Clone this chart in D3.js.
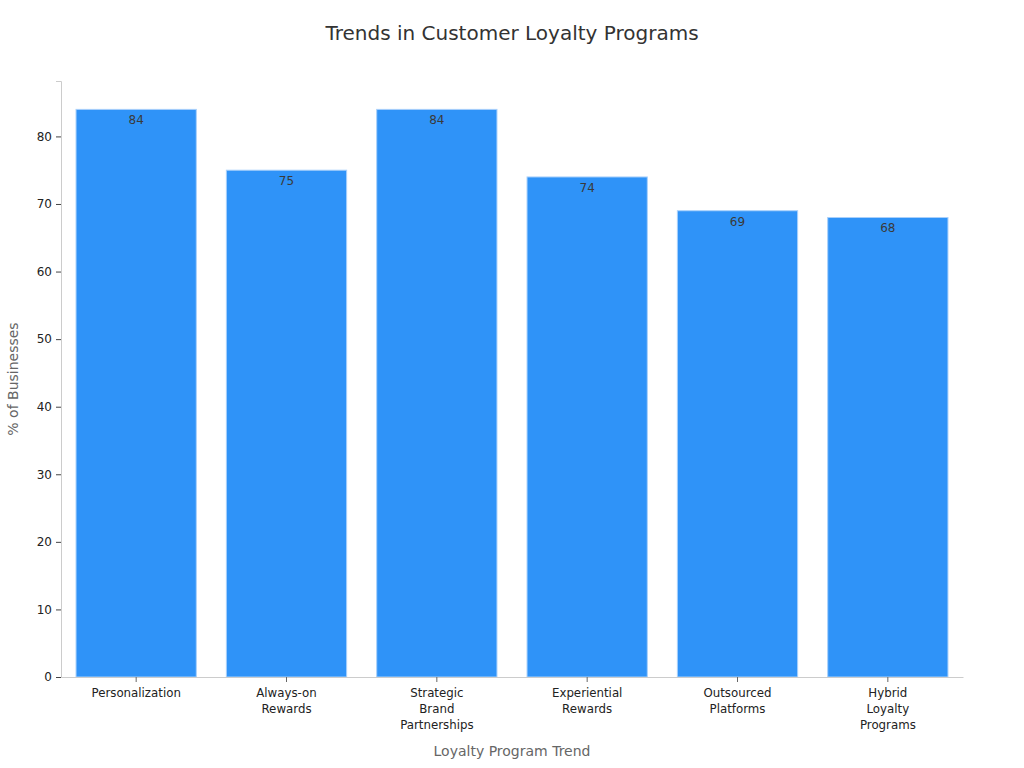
<!DOCTYPE html>
<html>
<head>
<meta charset="utf-8">
<title>Trends in Customer Loyalty Programs</title>
<script src="https://d3js.org/d3.v7.min.js"></script>
<style>
  body { margin: 0; background: #fff; }
  svg { font-family: "DejaVu Sans", sans-serif; }
</style>
</head>
<body>
<div id="chart"></div>
<script>
// chart data
const trends = ["Personalization", "Always-on Rewards", "Strategic Brand Partnerships",
                "Experiential Rewards", "Outsourced Platforms", "Hybrid Loyalty Programs"];
const tickLines = [["Personalization"], ["Always-on", "Rewards"], ["Strategic", "Brand", "Partnerships"],
                   ["Experiential", "Rewards"], ["Outsourced", "Platforms"], ["Hybrid", "Loyalty", "Programs"]];
const percents = [84, 75, 84, 74, 69, 68];
const yTicks = [0, 10, 20, 30, 40, 50, 60, 70, 80];

const width = 1024, height = 768;
const margin = { left: 61, right: 963, top: 81, bottom: 677 };

const svg = d3.select("#chart").append("svg")
    .attr("width", width)
    .attr("height", height);

const x = d3.scaleBand()
    .domain(trends)
    .range([margin.left, margin.right])
    .paddingInner(0.2)
    .paddingOuter(0.1);

const y = d3.scaleLinear()
    .domain([0, d3.max(percents) * 1.05])
    .range([margin.bottom, margin.top]);

// title
svg.append("text")
    .attr("x", 512).attr("y", 40)
    .attr("text-anchor", "middle")
    .attr("font-size", 20)
    .attr("fill", "#333")
    .text("Trends in Customer Loyalty Programs");

// bars
svg.selectAll("rect.bar")
    .data(percents)
    .join("rect")
    .attr("class", "bar")
    .attr("x", (d, i) => x(trends[i]))
    .attr("y", d => y(d))
    .attr("width", x.bandwidth())
    .attr("height", d => y(0) - y(d))
    .attr("fill", "#2f93f8")
    .attr("stroke", "#a9d0fb")
    .attr("stroke-width", 1);

// value labels
svg.selectAll("text.val")
    .data(percents)
    .join("text")
    .attr("class", "val")
    .attr("x", (d, i) => x(trends[i]) + x.bandwidth() / 2)
    .attr("y", d => y(d) + 15)
    .attr("text-anchor", "middle")
    .attr("font-size", 12)
    .attr("fill", "#3a3a3a")
    .text(d => d);

// y axis
const yAxis = svg.append("g")
    .attr("transform", `translate(${margin.left},0)`)
    .call(d3.axisLeft(y).tickValues(yTicks).tickSize(5).tickPadding(4));
yAxis.select(".domain").attr("stroke", "#ccc");
yAxis.selectAll(".tick line").attr("stroke", "#444");
yAxis.selectAll(".tick text").attr("font-size", 12).attr("fill", "#222")
    .attr("font-family", "DejaVu Sans, sans-serif");

// x axis
const xAxis = svg.append("g")
    .attr("transform", `translate(0,${margin.bottom})`)
    .call(d3.axisBottom(x).tickSize(5).tickSizeOuter(0).tickFormat(""));
xAxis.select(".domain").attr("stroke", "#ccc");
xAxis.selectAll(".tick line").attr("stroke", "#666");
xAxis.selectAll(".tick").each(function(d, i) {
    const t = d3.select(this).append("text")
        .attr("text-anchor", "middle")
        .attr("font-size", 11.8)
        .attr("fill", "#222")
        .attr("font-family", "DejaVu Sans, sans-serif");
    tickLines[i].forEach((line, j) => {
        t.append("tspan").attr("x", 0).attr("y", 20 + j * 16).text(line);
    });
});

// axis titles
svg.append("text")
    .attr("x", (margin.left + margin.right) / 2).attr("y", 756)
    .attr("text-anchor", "middle")
    .attr("font-size", 14)
    .attr("fill", "#666")
    .text("Loyalty Program Trend");

svg.append("text")
    .attr("transform", `translate(18,${(margin.top + margin.bottom) / 2}) rotate(-90)`)
    .attr("text-anchor", "middle")
    .attr("font-size", 14)
    .attr("fill", "#666")
    .text("% of Businesses");
</script>
</body>
</html>
